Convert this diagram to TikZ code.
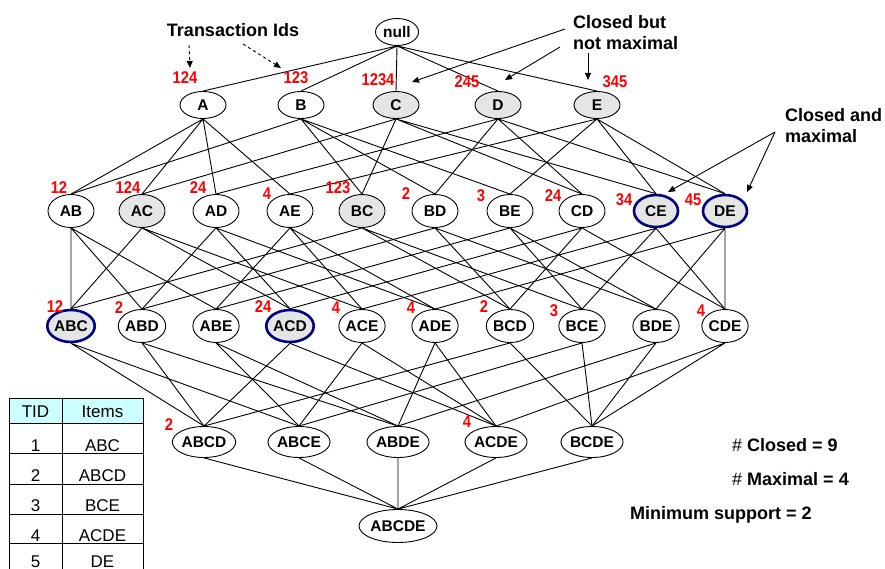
\documentclass[tikz,border=0pt]{standalone}
\usepackage{fontspec}
\setmainfont{Liberation Sans}
\newfontfamily\supfont[FakeStretch=0.87]{Liberation Sans}
\usetikzlibrary{shapes.geometric,arrows.meta}
\definecolor{navy}{RGB}{0,0,128}
\definecolor{closedgray}{RGB}{229,229,229}
\definecolor{tidcyan}{RGB}{204,255,255}

\begin{document}
\begin{tikzpicture}[x=1pt,y=-1pt,
  item/.style={ellipse, draw, line width=0.9pt, inner sep=0pt, minimum width=46, minimum height=33, font=\bfseries\fontsize{15.5}{15.5}\selectfont},
  closed/.style={fill=closedgray},
  maxclosed/.style={closed, draw=navy, line width=2.6pt, minimum width=44, minimum height=32},
  sup/.style={text=red, inner sep=0pt, font=\supfont\bfseries\fontsize{17}{17}\selectfont},
  note/.style={inner sep=0pt, align=left, font=\bfseries\fontsize{18}{21}\selectfont},
  link/.style={line width=0.9pt},
  pointer/.style={line width=0.9pt, -{Triangle[length=7pt,width=6pt]}},
  cell/.style={inner sep=0pt, font=\fontsize{17}{17}\selectfont}]
  \useasboundingbox (0,0) rectangle (885,569);
  \clip (0,0) rectangle (885,569);

  % lattice
  \node[item, minimum width=43, minimum height=27] (null) at (397,32) {null};

  \node[item, minimum height=27] (A) at (203,105) {A};
  \node[item, minimum height=27] (B) at (301,105) {B};
  \node[item, minimum height=27, closed] (C) at (396,105) {C};
  \node[item, minimum height=27, closed] (D) at (498,105) {D};
  \node[item, minimum height=27, closed] (E) at (597,105) {E};

  \node[item] (AB) at (71,211) {AB};
  \node[item, closed] (AC) at (142,211) {AC};
  \node[item] (AD) at (216,211) {AD};
  \node[item] (AE) at (290,211) {AE};
  \node[item, closed] (BC) at (362,211) {BC};
  \node[item] (BD) at (435,211) {BD};
  \node[item] (BE) at (510,211) {BE};
  \node[item] (CD) at (582,211) {CD};
  \node[item, maxclosed] (CE) at (656,211) {CE};
  \node[item, maxclosed] (DE) at (725,211) {DE};

  \node[item, maxclosed] (ABC) at (71,326) {ABC};
  \node[item] (ABD) at (142,326) {ABD};
  \node[item] (ABE) at (216,326) {ABE};
  \node[item, maxclosed] (ACD) at (290,326) {ACD};
  \node[item] (ACE) at (362,326) {ACE};
  \node[item] (ADE) at (435,326) {ADE};
  \node[item] (BCD) at (510,326) {BCD};
  \node[item] (BCE) at (582,326) {BCE};
  \node[item] (BDE) at (656,326) {BDE};
  \node[item] (CDE) at (725,326) {CDE};

  \node[item, minimum width=62, minimum height=31] (ABCD) at (204,442) {ABCD};
  \node[item, minimum width=62, minimum height=31] (ABCE) at (299,442) {ABCE};
  \node[item, minimum width=62, minimum height=31] (ABDE) at (398,442) {ABDE};
  \node[item, minimum width=62, minimum height=31] (ACDE) at (496,442) {ACDE};
  \node[item, minimum width=62, minimum height=31] (BCDE) at (592,442) {BCDE};

  \node[item, minimum width=73] (ABCDE) at (398,526) {ABCDE};

  \draw[link] (null.south) -- (A.north) (null.south) -- (B.north) (null.south) -- (C.north) (null.south) -- (D.north) (null.south) -- (E.north);
  \draw[link] (A.south) -- (AB.north) (A.south) -- (AC.north) (A.south) -- (AD.north) (A.south) -- (AE.north);
  \draw[link] (B.south) -- (AB.north) (B.south) -- (BC.north) (B.south) -- (BD.north) (B.south) -- (BE.north);
  \draw[link] (C.south) -- (AC.north) (C.south) -- (BC.north) (C.south) -- (CD.north) (C.south) -- (CE.north);
  \draw[link] (D.south) -- (AD.north) (D.south) -- (BD.north) (D.south) -- (CD.north) (D.south) -- (DE.north);
  \draw[link] (E.south) -- (AE.north) (E.south) -- (BE.north) (E.south) -- (CE.north) (E.south) -- (DE.north);
  \draw[link] (AB.south) -- (ABC.north) (AB.south) -- (ABD.north) (AB.south) -- (ABE.north);
  \draw[link] (AC.south) -- (ABC.north) (AC.south) -- (ACD.north) (AC.south) -- (ACE.north);
  \draw[link] (AD.south) -- (ABD.north) (AD.south) -- (ACD.north) (AD.south) -- (ADE.north);
  \draw[link] (AE.south) -- (ABE.north) (AE.south) -- (ACE.north) (AE.south) -- (ADE.north);
  \draw[link] (BC.south) -- (ABC.north) (BC.south) -- (BCD.north) (BC.south) -- (BCE.north);
  \draw[link] (BD.south) -- (ABD.north) (BD.south) -- (BCD.north) (BD.south) -- (BDE.north);
  \draw[link] (BE.south) -- (ABE.north) (BE.south) -- (BCE.north) (BE.south) -- (BDE.north);
  \draw[link] (CD.south) -- (ACD.north) (CD.south) -- (BCD.north) (CD.south) -- (CDE.north);
  \draw[link] (CE.south) -- (ACE.north) (CE.south) -- (BCE.north) (CE.south) -- (CDE.north);
  \draw[link] (DE.south) -- (ADE.north) (DE.south) -- (BDE.north) (DE.south) -- (CDE.north);
  \draw[link] (ABC.south) -- (ABCD.north) (ABC.south) -- (ABCE.north);
  \draw[link] (ABD.south) -- (ABCD.north) (ABD.south) -- (ABDE.north);
  \draw[link] (ABE.south) -- (ABCE.north) (ABE.south) -- (ABDE.north);
  \draw[link] (ACD.south) -- (ABCD.north) (ACD.south) -- (ACDE.north);
  \draw[link] (ACE.south) -- (ABCE.north) (ACE.south) -- (ACDE.north);
  \draw[link] (ADE.south) -- (ABDE.north) (ADE.south) -- (ACDE.north);
  \draw[link] (BCD.south) -- (ABCD.north) (BCD.south) -- (BCDE.north);
  \draw[link] (BCE.south) -- (ABCE.north) (BCE.south) -- (BCDE.north);
  \draw[link] (BDE.south) -- (ABDE.north) (BDE.south) -- (BCDE.north);
  \draw[link] (CDE.south) -- (ACDE.north) (CDE.south) -- (BCDE.north);
  \draw[link] (ABCD.south) -- (ABCDE.north) (ABCE.south) -- (ABCDE.north) (ABDE.south) -- (ABCDE.north) (ACDE.south) -- (ABCDE.north) (BCDE.south) -- (ABCDE.north);

  % supports
  \node[sup] (sA) at (185,78) {124};
  \node[sup] (sB) at (296,78) {123};
  \node[sup] (sC) at (378,80) {1234};
  \node[sup] (sD) at (467,82) {245};
  \node[sup] (sE) at (615,82) {345};
  \node[sup] (sAB) at (59,188) {12};
  \node[sup] (sAC) at (128,188) {124};
  \node[sup] (sAD) at (198,188) {24};
  \node[sup] (sAE) at (267,194) {4};
  \node[sup] (sBC) at (338,188) {123};
  \node[sup] (sBD) at (406,194) {2};
  \node[sup] (sBE) at (481,196) {3};
  \node[sup] (sCD) at (553,196) {24};
  \node[sup] (sCE) at (624,200) {34};
  \node[sup] (sDE) at (693,200) {45};
  \node[sup] (sABC) at (55,307) {12};
  \node[sup] (sABD) at (119,308) {2};
  \node[sup] (sACD) at (263,307) {24};
  \node[sup] (sACE) at (336,308) {4};
  \node[sup] (sADE) at (411,308) {4};
  \node[sup] (sBCD) at (484,307) {2};
  \node[sup] (sBCE) at (554,311) {3};
  \node[sup] (sCDE) at (701,311) {4};
  \node[sup] (sABCD) at (169,425) {2};
  \node[sup] (sACDE) at (467,422) {4};

  % notes and their arrows
  \node[note] (txids) at (233,30) {Transaction Ids};
  \node[note, anchor=west] (cbnm) at (573,33) {Closed but\\not maximal};
  \node[note, anchor=west] (cam) at (785,126) {Closed and\\maximal};

  \coordinate (tx1) at (189,45);
  \coordinate (tx2) at (243,44);
  \coordinate (txA) at (190,68);
  \coordinate (txB) at (281,68);
  \draw[pointer, dashed] (tx1) -- (txA);
  \draw[pointer, dashed] (tx2) -- (txB);

  \coordinate (cb1) at (565,29);
  \coordinate (cb2) at (560,47);
  \coordinate (cb3) at (588,53);
  \coordinate (cbC) at (412,82);
  \coordinate (cbD) at (505,80);
  \coordinate (cbE) at (588,80);
  \draw[pointer] (cb1) -- (cbC);
  \draw[pointer] (cb2) -- (cbD);
  \draw[pointer] (cb3) -- (cbE);

  \coordinate (cm) at (775,132);
  \coordinate (cmCE) at (668,192);
  \coordinate (cmDE) at (747,192);
  \draw[pointer] (cm) -- (cmCE);
  \draw[pointer] (cm) -- (cmDE);

  \node[note, anchor=west] (nclosed) at (732,445) {{\mdseries\#} Closed = 9};
  \node[note, anchor=west] (nmax) at (732,479) {{\mdseries\#} Maximal = 4};
  \node[note, anchor=west] (minsup) at (630,515) {Minimum support = 2};

  % transactions
  \fill[tidcyan] (9,398) rectangle (143,423);
  \draw[line width=0.8pt] (9,580) |- (143,398) -- (143,580);
  \draw[line width=0.8pt] (62,398) -- (62,580);
  \draw[line width=0.8pt] (9,423) -- (143,423) (9,453) -- (143,453) (9,484) -- (143,484) (9,514) -- (143,514) (9,543) -- (143,543);
  \node[cell] (tid) at (35.5,412) {TID};
  \node[cell] (items) at (102.5,412) {Items};
  \node[cell] (t1) at (35.5,446) {1};
  \node[cell] (i1) at (102.5,446) {ABC};
  \node[cell] (t2) at (35.5,476) {2};
  \node[cell] (i2) at (102.5,476) {ABCD};
  \node[cell] (t3) at (35.5,506) {3};
  \node[cell] (i3) at (102.5,506) {BCE};
  \node[cell] (t4) at (35.5,536) {4};
  \node[cell] (i4) at (102.5,536) {ACDE};
  \node[cell] (t5) at (35.5,562) {5};
  \node[cell] (i5) at (102.5,562) {DE};
\end{tikzpicture}
\end{document}
